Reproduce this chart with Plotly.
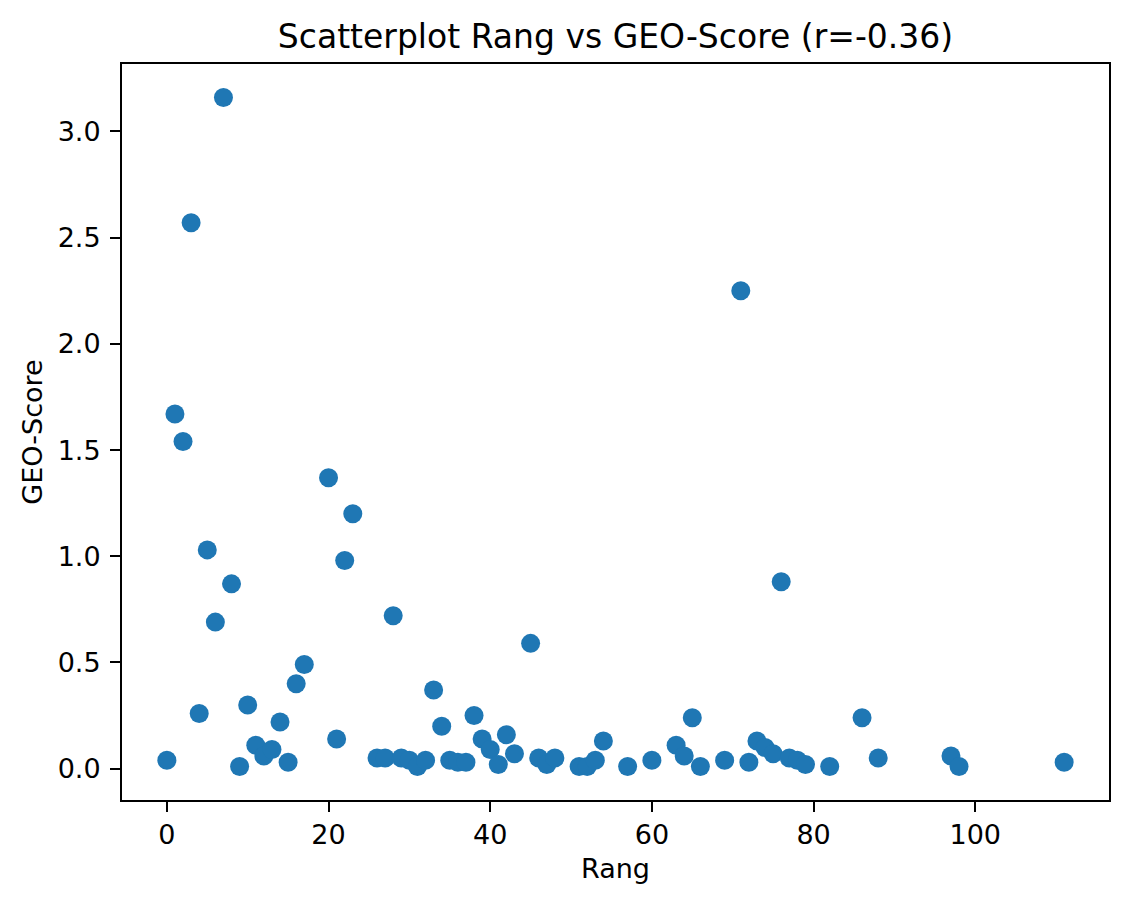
import plotly.graph_objects as go

# Données
rang = [0, 1, 2, 3, 4, 5, 6, 7, 8, 9, 10, 11, 12, 13, 14, 15, 16, 17,
        20, 21, 22, 23, 26, 27, 28, 29, 30, 31, 32, 33, 34, 35, 36, 37,
        38, 39, 40, 41, 42, 43, 45, 46, 47, 48, 51, 52, 53, 54, 57, 60,
        63, 64, 65, 66, 69, 71, 72, 73, 74, 75, 76, 77, 78, 79, 82, 86,
        88, 97, 98, 111]
geo_score = [0.04, 1.67, 1.54, 2.57, 0.26, 1.03, 0.69, 3.16, 0.87, 0.01,
             0.30, 0.11, 0.06, 0.09, 0.22, 0.03, 0.40, 0.49, 1.37, 0.14,
             0.98, 1.20, 0.05, 0.05, 0.72, 0.05, 0.04, 0.01, 0.04, 0.37,
             0.20, 0.04, 0.03, 0.03, 0.25, 0.14, 0.09, 0.02, 0.16, 0.07,
             0.59, 0.05, 0.02, 0.05, 0.01, 0.01, 0.04, 0.13, 0.01, 0.04,
             0.11, 0.06, 0.24, 0.01, 0.04, 2.25, 0.03, 0.13, 0.10, 0.07,
             0.88, 0.05, 0.04, 0.02, 0.01, 0.24, 0.05, 0.06, 0.01, 0.03]
r_value = -0.36

x_ticks = [0, 20, 40, 60, 80, 100]
y_ticks = [0.0, 0.5, 1.0, 1.5, 2.0, 2.5, 3.0]

# marges à la matplotlib (5 %)
def padded(vals, frac=0.05):
    lo, hi = min(vals), max(vals)
    d = (hi - lo) * frac
    return [lo - d, hi + d]

font = "DejaVu Sans"

fig = go.Figure()
fig.add_trace(go.Scatter(
    x=rang,
    y=geo_score,
    mode="markers",
    marker=dict(size=19, color="#1f77b4", line=dict(width=0)),
    showlegend=False
))

axis_style = dict(
    showgrid=False,
    zeroline=False,
    showline=True,
    linecolor="black",
    linewidth=2,
    mirror=True,
    ticks="outside",
    ticklen=10,
    tickwidth=2,
    tickcolor="black",
    tickfont=dict(family=font, size=27, color="black"),
)

# la page ajoute ~8px de marge autour du graphique
fig.update_layout(
    width=1120,
    height=897,
    margin=dict(l=114, r=19, t=56, b=105),
    paper_bgcolor="white",
    plot_bgcolor="white",
    title=dict(
        text=f"Scatterplot Rang vs GEO-Score (r={r_value})",
        x=0.5, xref="paper", xanchor="center",
        y=1 - 28 / 897, yref="container", yanchor="middle",
        font=dict(family=font, size=33, color="black")
    ),
    xaxis=dict(
        axis_style,
        range=padded(rang),
        tickvals=x_ticks,
        ticktext=[str(v) for v in x_ticks],
        title=dict(text="Rang", font=dict(family=font, size=27, color="black"), standoff=10),
    ),
    yaxis=dict(
        axis_style,
        range=padded(geo_score),
        tickvals=y_ticks,
        ticktext=[f"{v:.1f}" for v in y_ticks],
        ticklabelstandoff=4,
        title=dict(text="GEO-Score", font=dict(family=font, size=27, color="black"), standoff=7),
    ),
)

fig.write_html("out.html")
